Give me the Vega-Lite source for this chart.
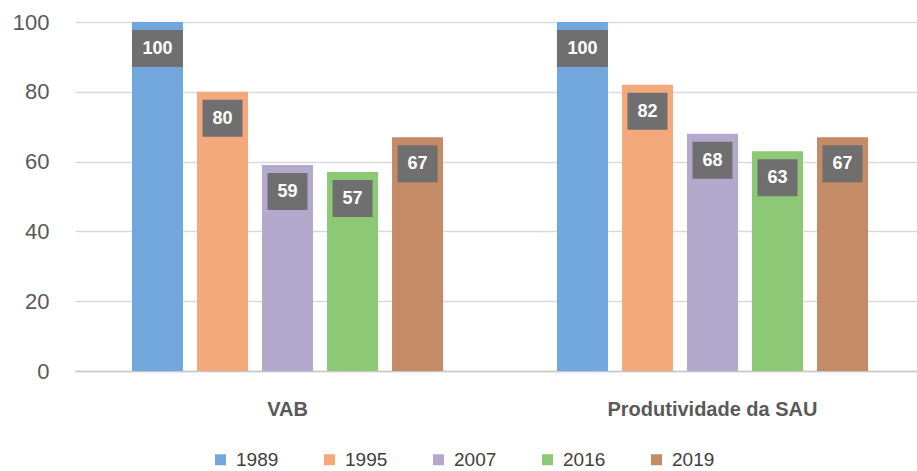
{
  "$schema": "https://vega.github.io/schema/vega-lite/v6.json",
  "width": 850,
  "height": 349,
  "autosize": {"type": "none"},
  "padding": {"left": 75, "top": 22, "right": 0, "bottom": 100},
  "background": "white",
  "config": {
    "font": "Liberation Sans",
    "view": {"stroke": null}
  },
  "data": {
    "values": [
      {"indicador": "VAB", "ano": "1989", "valor": 100},
      {"indicador": "VAB", "ano": "1995", "valor": 80},
      {"indicador": "VAB", "ano": "2007", "valor": 59},
      {"indicador": "VAB", "ano": "2016", "valor": 57},
      {"indicador": "VAB", "ano": "2019", "valor": 67},
      {"indicador": "Produtividade da SAU", "ano": "1989", "valor": 100},
      {"indicador": "Produtividade da SAU", "ano": "1995", "valor": 82},
      {"indicador": "Produtividade da SAU", "ano": "2007", "valor": 68},
      {"indicador": "Produtividade da SAU", "ano": "2016", "valor": 63},
      {"indicador": "Produtividade da SAU", "ano": "2019", "valor": 67}
    ]
  },
  "encoding": {
    "x": {
      "field": "indicador",
      "type": "nominal",
      "sort": ["VAB", "Produtividade da SAU"],
      "scale": {"paddingInner": 0.235, "paddingOuter": 0.1176},
      "axis": {
        "title": null,
        "labelAngle": 0,
        "labelLimit": 0,
        "ticks": false,
        "domain": true,
        "domainColor": "#c8c8c8",
        "domainWidth": 1.5,
        "labelFontSize": 20,
        "labelFontWeight": "bold",
        "labelColor": "#595959",
        "labelPadding": 28
      }
    },
    "xOffset": {
      "field": "ano",
      "type": "nominal",
      "scale": {"paddingInner": 0.215, "paddingOuter": 0.1077}
    },
    "y": {
      "field": "valor",
      "type": "quantitative",
      "scale": {"domain": [0, 100], "nice": false},
      "axis": {
        "title": null,
        "values": [0, 20, 40, 60, 80, 100],
        "domain": false,
        "ticks": false,
        "gridColor": "#d9d9d9",
        "gridWidth": 1.5,
        "labelFontSize": 22,
        "labelColor": "#595959",
        "labelPadding": 26
      }
    }
  },
  "layer": [
    {
      "mark": {"type": "bar"},
      "encoding": {
        "color": {
          "field": "ano",
          "type": "nominal",
          "scale": {
            "domain": ["1989", "1995", "2007", "2016", "2019"],
            "range": ["#72a7dd", "#f3a97b", "#b3a9cd", "#8dc877", "#c38b66"]
          },
          "legend": {
            "title": null,
            "orient": "none",
            "direction": "horizontal",
            "columns": 5,
            "legendX": 136,
            "legendY": 428,
            "symbolType": "square",
            "symbolSize": 121,
            "symbolStrokeWidth": 0,
            "labelFontSize": 19,
            "labelColor": "#404040",
            "labelOffset": 6,
            "columnPadding": 41
          }
        }
      }
    },
    {
      "mark": {"type": "bar", "yOffset": 8, "y2Offset": 45, "color": "#6f6f6f"},
      "encoding": {
        "y2": {"field": "valor"},
        "size": {"condition": {"test": "datum.valor >= 100", "value": 51}, "value": 40}
      }
    },
    {
      "mark": {"type": "text", "yOffset": 27, "color": "white", "fontWeight": "bold", "fontSize": 18, "baseline": "middle"},
      "encoding": {"text": {"field": "valor", "type": "quantitative"}}
    }
  ]
}
